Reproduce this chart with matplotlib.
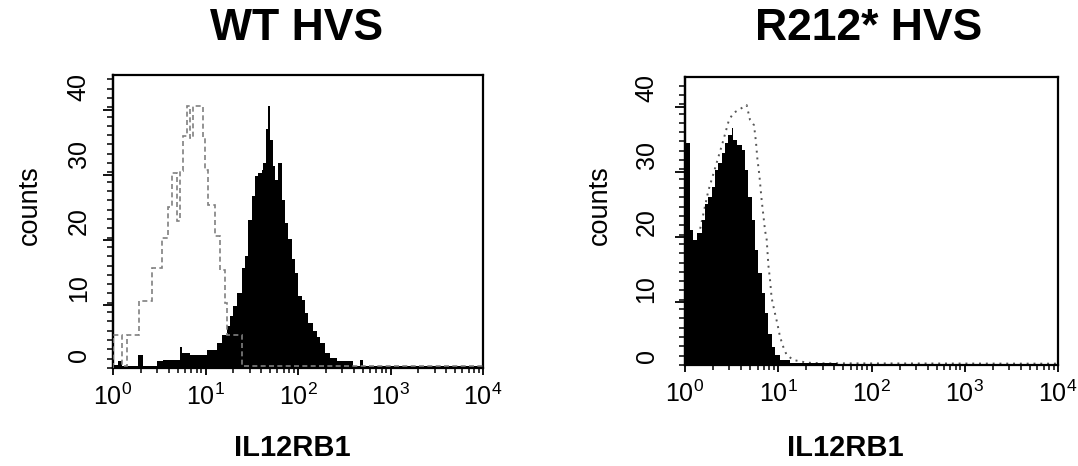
import numpy as np
import matplotlib
matplotlib.use("Agg")
import matplotlib.pyplot as plt
from matplotlib.ticker import FixedLocator, NullLocator, LogLocator

plt.rcParams['font.family'] = ['Liberation Sans', 'DejaVu Sans']
plt.rcParams['mathtext.default'] = 'regular'

# WT HVS: IL12RB1 stain (filled) and isotype control (dashed), x in log10 units
wt_edges_log = [0, 0.058, 0.094, 0.274, 0.328, 0.472, 0.544, 0.724, 0.742, 0.832,
                1.013, 1.121, 1.175, 1.229, 1.265, 1.301, 1.337, 1.391, 1.427, 1.463,
                1.499, 1.535, 1.571, 1.607, 1.625, 1.654, 1.679, 1.697, 1.726, 1.751,
                1.787, 1.823, 1.859, 1.895, 1.932, 1.968, 2.004, 2.040, 2.076, 2.112,
                2.166, 2.202, 2.238, 2.292, 2.346, 2.418, 2.598, 2.670, 2.706, 4.0]
wt_counts = [0.4, 1.0, 0.3, 2.0, 0.35, 1.0, 1.24, 3.2, 2.2, 2.0,
             2.7, 3.7, 5.0, 6.2, 7.7, 9.2, 11.2, 14.9, 16.7, 22.1,
             25.6, 28.6, 29.1, 29.6, 30.6, 35.6, 39.1, 34.1, 30.1, 28.1,
             30.6, 25.1, 21.6, 19.2, 16.2, 14.2, 10.7, 10.2, 8.2, 6.7,
             5.5, 4.7, 3.7, 2.2, 1.5, 1.0, 0.35, 1.24, 0.3]

iso_edges_log = [0, 0.094, 0.148, 0.285, 0.418, 0.526, 0.598, 0.634, 0.695, 0.724,
                 0.760, 0.796, 0.832, 0.868, 0.977, 0.995, 1.031, 1.103, 1.157, 1.211,
                 1.229, 1.391, 4.0]
iso_counts = [5.0, 0.3, 5.0, 9.95, 14.9, 19.4, 24.1, 29.1, 22.0, 29.4,
              34.6, 39.1, 34.3, 39.1, 34.3, 29.6, 24.4, 19.7, 14.7, 9.7,
              5.0, 0.3]

# R212* HVS: IL12RB1 stain (filled) and control (dotted)
mut_edges_log = [0, 0.054, 0.089, 0.125, 0.179, 0.214, 0.250, 0.286, 0.322, 0.357,
                 0.393, 0.429, 0.465, 0.500, 0.518, 0.554, 0.608, 0.643, 0.679, 0.715,
                 0.751, 0.786, 0.822, 0.858, 0.894, 0.929, 0.965, 1.019, 1.126, 1.269,
                 1.626, 4.0]
mut_counts = [33.1, 20.1, 18.7, 19.7, 21.6, 24.1, 25.1, 26.6, 29.1, 30.1,
              31.6, 33.1, 34.3, 35.3, 33.6, 32.8, 32.1, 29.1, 25.1, 21.6,
              17.2, 13.7, 10.7, 7.7, 4.7, 2.7, 1.5, 0.75, 0.35, 0.25, 0.15]

ctrl_log = [0.0, 0.054, 0.125, 0.25, 0.4, 0.47, 0.518, 0.590, 0.661, 0.697,
            0.740, 0.761, 0.776, 0.797, 0.822, 0.840, 0.858, 0.876, 0.894, 0.912,
            0.929, 0.965, 0.990, 1.019, 1.054, 1.090, 1.162, 1.305, 1.483, 4.0]
ctrl_counts = [16.0, 16.7, 17.9, 26.0, 33.0, 36.5, 37.6, 38.2, 38.8, 36.6,
               35.8, 33.3, 30.8, 28.4, 24.6, 22.4, 20.1, 18.7, 14.9, 12.7,
               10.0, 7.7, 6.2, 4.2, 2.7, 1.5, 0.75, 0.35, 0.25, 0.2]

titles = ['WT HVS', 'R212* HVS']
ytick_labels = ['0', '10', '20', '30', '40']
xtick_vals = [1, 10, 100, 1000, 10000]
xtick_labels = ['$10^{0}$', '$10^{1}$', '$10^{2}$', '$10^{3}$', '$10^{4}$']

W, H = 1078, 466
fig = plt.figure(figsize=(W / 100, H / 100), dpi=100)
ax1 = fig.add_axes([113 / W, 1 - 368 / H, 370 / W, 293 / H])
ax2 = fig.add_axes([685 / W, 1 - 365 / H, 373 / W, 288 / H])

# left panel
ax1.stairs(iso_counts, 10 ** np.array(iso_edges_log), color='#808080',
           linestyle=(0, (3, 2)), linewidth=1.2, zorder=3)
ax1.stairs(wt_counts, 10 ** np.array(wt_edges_log), fill=True, color='black', zorder=2)

# right panel
ax2.plot(10 ** np.array(ctrl_log), ctrl_counts, color='#555555',
         linestyle=(0, (1, 2.5)), linewidth=1.4, zorder=1)
ax2.stairs(mut_counts, 10 ** np.array(mut_edges_log), fill=True, color='black', zorder=2)


def style(ax, ytop, y0, ypad, title, tx, lx, cx):
    ax.set_xscale('log')
    ax.set_xlim(1, 1e4)
    ax.set_ylim(0, ytop)
    for s in ax.spines.values():
        s.set_linewidth(1.6)
    ax.set_xticks(xtick_vals)
    ax.set_xticklabels(xtick_labels, fontsize=18)
    ax.xaxis.set_minor_locator(LogLocator(base=10, subs=np.arange(2, 10)))
    ax.tick_params(axis='x', which='major', direction='out', length=5, width=1.3, pad=6)
    ax.tick_params(axis='x', which='minor', direction='out', length=3.5, width=1.1)
    # y labels sit where the reference prints them
    ax.set_yticks([y0 + 10 * k for k in range(5)])
    ax.set_yticklabels(ytick_labels, fontsize=18, rotation=90, va='center')
    ax.tick_params(axis='y', which='major', length=0, pad=ypad)
    ax.yaxis.set_minor_locator(FixedLocator(np.arange(0, ytop, 1.39)))
    ax.tick_params(axis='y', which='minor', direction='out', length=4, width=1.1)
    sec = ax.secondary_yaxis('left')
    sec.set_yticks(np.arange(9.4, ytop, 9.7))
    sec.yaxis.set_minor_locator(NullLocator())
    sec.tick_params(length=7, width=1.3, labelleft=False)
    sec.spines['left'].set_linewidth(1.6)
    fig.text(tx / W, 1 - 29 / H, title, fontsize=32, fontweight='bold',
             ha='center', va='center')
    fig.text(lx / W, 1 - 448 / H, 'IL12RB1', fontsize=21, fontweight='bold',
             ha='center', va='center')
    fig.text(cx / W, 1 - 205 / H, 'counts', fontsize=19.5, rotation=90,
             ha='center', va='center')


style(ax1, 293 / 6.7, 1.94, 16, titles[0], 297, 292, 30)
style(ax2, 288 / 6.7, 1.34, 19, titles[1], 869, 845, 600)

fig.savefig('out.png', dpi=100)
